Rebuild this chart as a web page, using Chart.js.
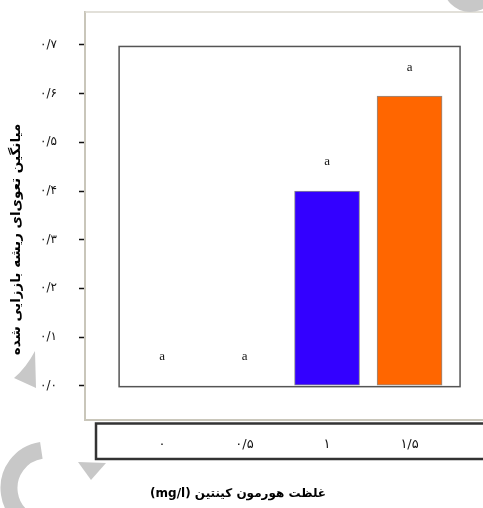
<!DOCTYPE html>
<html><head><meta charset="utf-8">
<script src="https://cdn.jsdelivr.net/npm/chart.js@4/dist/chart.umd.min.js"></script>
<style>html,body{margin:0;padding:0;background:#fff;overflow:hidden}</style>
</head><body><canvas id="c" width="483" height="508"></canvas>
<script>
// ---- data ----
const concentrations = [0, 0.5, 1, 1.5];
const concentrationLabels = ['۰', '۰/۵', '۱', '۱/۵'];
const meanRoots = [0, 0, 0.4, 0.595];
const groupLetters = ['a', 'a', 'a', 'a'];
const yTickValues = [0, 0.1, 0.2, 0.3, 0.4, 0.5, 0.6, 0.7];
const yTickLabels = ['۰/۰', '۰/۱', '۰/۲', '۰/۳', '۰/۴', '۰/۵', '۰/۶', '۰/۷'];
const xTitle = '(mg/l) غلظت هورمون کینتین';
const yTitle = 'میانگین تعوی‌ای ریشه باززایی شده';

// ---- styles ----
const barColors = ['#ffffff', '#ffffff', '#3300ff', '#ff6600'];
const frameGray = '#c9c6ba';
const yPad = '\u00A0'.repeat(10);
const xPad = '\u00A0'.repeat(22);

const decor = {
  id: 'decor',
  beforeDraw(chart) {
    const ctx = chart.ctx;
    ctx.save();
    ctx.fillStyle = '#fff';
    ctx.fillRect(0, 0, chart.width, chart.height);
    ctx.restore();
  },
  afterDraw(chart) {
    const {ctx, chartArea: a, scales: {x, y}} = chart;
    ctx.save();
    // top frame line
    ctx.strokeStyle = '#d9d6cc';
    ctx.lineWidth = 1.5;
    ctx.beginPath();
    ctx.moveTo(a.left, a.top);
    ctx.lineTo(a.right, a.top);
    ctx.stroke();
    // inner plot box
    const L = x.getPixelForValue(-0.26), R = x.getPixelForValue(1.806);
    const T = y.getPixelForValue(0.697), B = y.getPixelForValue(-0.002);
    ctx.strokeStyle = '#555';
    ctx.lineWidth = 1.5;
    ctx.strokeRect(L, T, R - L, B - T);
    // group letters
    ctx.fillStyle = '#111';
    ctx.font = '13px "Liberation Serif"';
    ctx.textAlign = 'center';
    ctx.textBaseline = 'middle';
    const meta = chart.getDatasetMeta(0);
    meta.data.forEach((bar, i) => {
      ctx.fillText(groupLetters[i], bar.x, bar.y - 29);
    });
    // lower label box
    ctx.strokeStyle = '#333';
    ctx.lineWidth = 2.5;
    ctx.strokeRect(x.getPixelForValue(-0.4), a.bottom + 3.5, 420, 35.5);
    // watermark shapes
    ctx.fillStyle = '#c8c8c8';
    ctx.beginPath();
    ctx.moveTo(35, 351); ctx.quadraticCurveTo(26, 368, 14, 378); ctx.lineTo(36, 388); ctx.closePath();
    ctx.fill();
    ctx.beginPath();
    ctx.moveTo(78, 462); ctx.lineTo(106, 463); ctx.lineTo(91, 480); ctx.closePath();
    ctx.fill();
    ctx.beginPath();
    ctx.arc(470, -15, 27, 0, Math.PI * 2);
    ctx.fill();
    ctx.strokeStyle = '#c8c8c8';
    ctx.lineWidth = 17;
    ctx.lineCap = 'butt';
    ctx.beginPath();
    ctx.arc(47, 488, 38, -1.72, 0.75, true);
    ctx.stroke();
    ctx.restore();
  }
};

new Chart(document.getElementById('c'), {
  type: 'bar',
  data: {
    datasets: [{
      data: concentrations.map((c, i) => ({x: c, y: meanRoots[i]})),
      backgroundColor: barColors,
      borderColor: '#8c8c8c',
      borderWidth: meanRoots.map(v => v > 0 ? 1 : 0),
      borderSkipped: false,
      barThickness: 65
    }]
  },
  options: {
    responsive: false,
    devicePixelRatio: 1,
    animation: false,
    layout: {padding: {left: 0, right: 0, top: 12, bottom: 0}},
    plugins: {legend: {display: false}, tooltip: {enabled: false}},
    scales: {
      x: {
        type: 'linear',
        position: 'bottom',
        offset: false,
        min: -0.4667,
        max: 1.945,
        afterFit: s => { s.height = 88; },
        afterBuildTicks: s => { s.ticks = concentrations.map(v => ({value: v})); },
        ticks: {
          callback: (v, i) => concentrationLabels[i],
          font: {family: 'DejaVu Sans', size: 13},
          color: '#111',
          padding: 17,
          maxRotation: 0,
          autoSkip: false
        },
        grid: {drawOnChartArea: false, drawTicks: false, offset: false},
        border: {display: true, color: frameGray, width: 2},
        title: {
          display: true,
          text: xTitle + xPad,
          font: {family: 'DejaVu Sans', size: 12, weight: 'bold'},
          color: '#000',
          padding: {top: 0, bottom: 7}
        }
      },
      y: {
        type: 'linear',
        position: 'left',
        min: -0.0705,
        max: 0.7678,
        afterFit: s => { s.width = 85; },
        afterBuildTicks: s => { s.ticks = yTickValues.map(v => ({value: v})); },
        ticks: {
          callback: (v, i) => yTickLabels[i],
          font: {family: 'DejaVu Sans', size: 12},
          color: '#111',
          padding: 1
        },
        grid: {
          drawOnChartArea: false, drawTicks: true, tickLength: 27,
          tickColor: '#111', tickWidth: 1.5, tickBorderDash: [0, 21, 6, 0]
        },
        border: {display: true, color: frameGray, width: 2},
        title: {
          display: true,
          text: yTitle + yPad,
          font: {family: 'DejaVu Sans', size: 13.5, weight: 'bold'},
          color: '#000',
          padding: {top: 8, bottom: 0}
        }
      }
    }
  },
  plugins: [decor]
});
</script>
</body></html>
